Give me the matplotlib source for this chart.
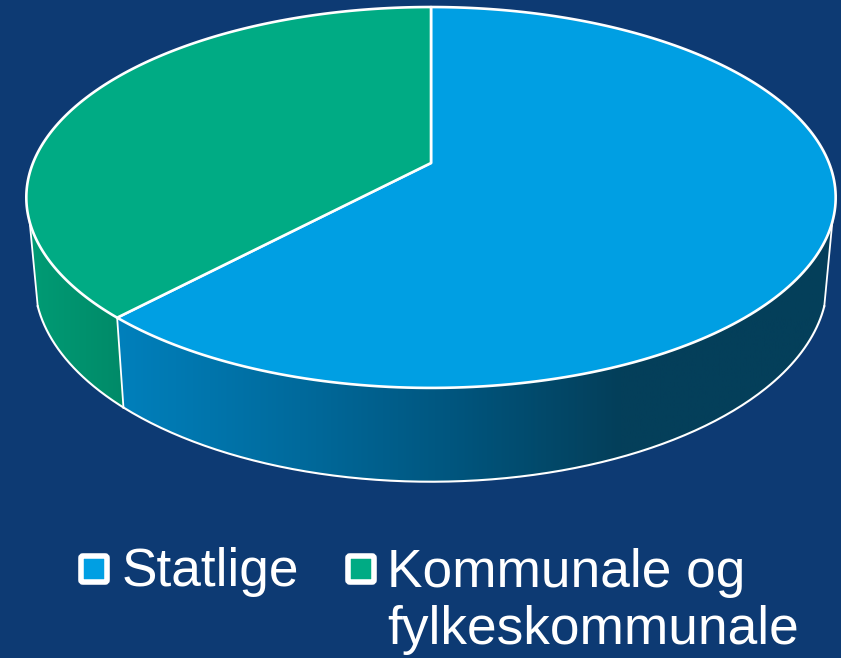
#! /usr/bin/python3

from matplotlib import pyplot as plt
from matplotlib.colors import LinearSegmentedColormap
from matplotlib.patches import FancyBboxPatch, Polygon
import numpy as np

labels = ['Statlige', 'Kommunale og\nfylkeskommunale']
shares = [62, 38]
top_colors = ['#009fe3', '#00ab84']

# wall shading from left to right, as (x in pixels, colour)
wall_stops = [
    [(117, '#0080bc'), (300, '#006a9c'), (450, '#00567f'), (620, '#043f5a'), (836, '#043f5a')],
    [(26, '#009c75'), (124, '#008a68')],
]

bg = '#0d3a73'

# projected disc, fitted to the picture: upper face and lower rim
CX = 431
TOP = dict(cy=163, rx=398, sy=184.2)
BOTTOM = dict(cy=244, rx=390, sy=194.7)
PERSP = 0.181
EDGE_ANGLE = 107.6  # where the rim goes out of sight, right side


def project(theta, face):
    u = np.sin(np.radians(theta))
    v = -np.cos(np.radians(theta))
    w = 1 - PERSP * v
    return np.column_stack([CX + face['rx'] * u / w, face['cy'] + face['sy'] * v / w])


def arc(a, b, face):
    return project(np.linspace(a, b, 200), face)


plt.rcParams['font.family'] = ['Liberation Sans', 'DejaVu Sans']

fig = plt.figure(figsize=(8.41, 6.58), dpi=100, facecolor=bg)
ax = fig.add_axes([0, 0, 1, 1])
ax.set_facecolor(bg)

angles = np.cumsum([0] + shares) * 360 / sum(shares)
centre = np.array([[CX, TOP['cy']]])

# walls first, the upper face goes over them
for i in range(len(shares)):
    a = max(angles[i], EDGE_ANGLE)
    b = min(angles[i + 1], 360 - EDGE_ANGLE)
    pts = np.vstack([arc(a, b, TOP), arc(b, a, BOTTOM)])
    wall = Polygon(pts, closed=True, fc='none', ec='none')
    ax.add_patch(wall)
    stops = wall_stops[i]
    x0, x1 = stops[0][0], stops[-1][0]
    cmap = LinearSegmentedColormap.from_list(
        'wall%d' % i, [((x - x0) / (x1 - x0), c) for x, c in stops])
    im = ax.imshow(np.linspace(0, 1, 256).reshape(1, -1), cmap=cmap, aspect='auto',
                   extent=[x0, x1, 490, 150], zorder=1)
    im.set_clip_path(wall)
    ax.plot(*arc(b, a, BOTTOM).T, color='white', lw=1.5, zorder=2)

# rim edges down the sides and at the slice border
for t in [EDGE_ANGLE, angles[1], 360 - EDGE_ANGLE]:
    ends = np.vstack([project(np.array([t]), TOP), project(np.array([t]), BOTTOM)])
    ax.plot(ends[:, 0], ends[:, 1], color='white', lw=1.3, zorder=2)

for i in range(len(shares)):
    pts = np.vstack([centre, arc(angles[i], angles[i + 1], TOP)])
    ax.add_patch(Polygon(pts, closed=True, fc=top_colors[i], ec='white', lw=1.9,
                         joinstyle='round', zorder=3))

# legend
legend_x = [78, 345]
text_x = [122, 387]
text_y = [586, 644]
for i in range(len(labels)):
    ax.add_patch(FancyBboxPatch((legend_x[i] + 3, 556), 26, 26, boxstyle='round,pad=0,rounding_size=2',
                                fc=top_colors[i], ec='white', lw=4, zorder=3))
    ax.text(text_x[i], text_y[i], labels[i], color='white', fontsize=38.3, va='baseline', ha='left',
            linespacing=1.19)

ax.set_xlim(0, 841)
ax.set_ylim(658, 0)
ax.axis('off')

plt.savefig('out.png', dpi=100, facecolor=bg)
plt.close()
